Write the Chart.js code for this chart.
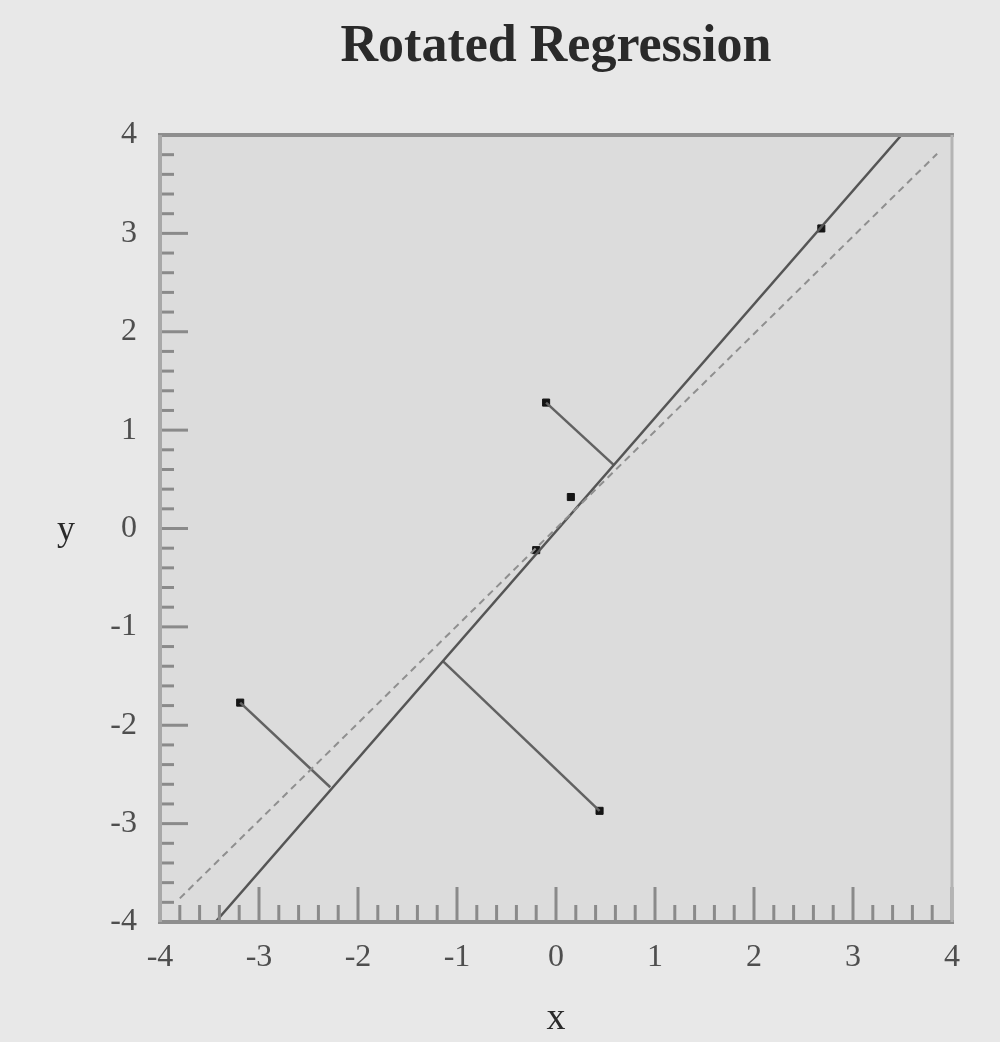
<!DOCTYPE html>
<html>
<head>
<meta charset="utf-8">
<script src="https://cdn.jsdelivr.net/npm/chart.js@4/dist/chart.umd.min.js"></script>
<style>
  body { margin: 0; background: #e8e8e8; }
  #wrap { width: 1000px; height: 1042px; }
</style>
</head>
<body>
<div id="wrap"><canvas id="myChart" width="1000" height="1042"></canvas></div>
<script>
// fitted (rotated) regression line, end points
const fitLineX = [-3.44, 3.49];
const fitLineY = [-4.0, 4.0];

// dashed reference line
const refLineX = [-3.80, 3.85];
const refLineY = [-3.76, 3.81];

// observations
const pointX = [2.68, 0.15, -0.20, -0.10, -3.19, 0.44];
const pointY = [3.05, 0.32, -0.22, 1.28, -1.77, -2.87];

// perpendicular residuals: from observation to foot on the fitted line
const residFromX = [-0.10, -3.19, 0.44];
const residFromY = [1.28, -1.77, -2.87];
const residToX = [0.58, -2.28, -1.14];
const residToY = [0.65, -2.63, -1.35];

const axisMin = -4;
const axisMax = 4;
const tickStep = 1;
const minorStep = 0.2;

const toPoints = (xs, ys) => xs.map((x, i) => ({ x: x, y: ys[i] }));

const serif = 'Liberation Serif';

// Segments for the residuals
const residDatasets = residFromX.map((x, i) => ({
    type: 'line',
    data: toPoints([x, residToX[i]], [residFromY[i], residToY[i]]),
    borderColor: '#626262',
    borderWidth: 2.5,
    pointRadius: 0,
    fill: false
}));

// Frame, inward ticks and the horizontal "y" label
const framePlugin = {
    id: 'frame',
    beforeDraw(chart) {
        const { ctx, chartArea: a } = chart;
        ctx.save();
        ctx.fillStyle = '#dcdcdc';
        ctx.fillRect(a.left, a.top, a.right - a.left, a.bottom - a.top);
        ctx.restore();
    },
    afterDraw(chart) {
        const { ctx, chartArea: a } = chart;
        const xs = chart.scales.x;
        const ys = chart.scales.y;
        ctx.save();

        // minor / major ticks pointing into the plot
        ctx.strokeStyle = '#8a8a8a';
        ctx.lineWidth = 3;
        const n = Math.round((axisMax - axisMin) / minorStep);
        for (let i = 0; i <= n; i++) {
            const v = axisMin + i * minorStep;
            const major = Math.abs(v - Math.round(v)) < 1e-6;
            const px = xs.getPixelForValue(v);
            ctx.beginPath();
            ctx.moveTo(px, a.bottom);
            ctx.lineTo(px, a.bottom - (major ? 35 : 17));
            ctx.stroke();
            const py = ys.getPixelForValue(v);
            ctx.beginPath();
            ctx.moveTo(a.left, py);
            ctx.lineTo(a.left + (major ? 28 : 14), py);
            ctx.stroke();
        }

        // frame
        ctx.strokeStyle = '#8e8e8e';
        ctx.lineWidth = 4;
        ctx.beginPath();
        ctx.moveTo(a.left - 2, a.top); ctx.lineTo(a.right + 2, a.top);
        ctx.moveTo(a.left - 2, a.bottom); ctx.lineTo(a.right + 2, a.bottom);
        ctx.stroke();
        ctx.strokeStyle = '#a8a8a8';
        ctx.beginPath();
        ctx.moveTo(a.left, a.top); ctx.lineTo(a.left, a.bottom);
        ctx.stroke();
        ctx.lineWidth = 3;
        ctx.strokeStyle = '#b4b4b4';
        ctx.beginPath();
        ctx.moveTo(a.right, a.top); ctx.lineTo(a.right, a.bottom);
        ctx.stroke();

        // y axis name, written upright like the original
        ctx.fillStyle = '#2a2a2a';
        ctx.font = '36px "' + serif + '"';
        ctx.textAlign = 'center';
        ctx.textBaseline = 'middle';
        ctx.fillText('y', 66, ys.getPixelForValue(0) + 2);
        ctx.restore();
    }
};

const ctx = document.getElementById('myChart').getContext('2d');
const myChart = new Chart(ctx, {
    type: 'scatter',
    data: {
        datasets: [
            {
                type: 'line',
                label: 'Reference',
                data: toPoints(refLineX, refLineY),
                borderColor: '#8f8f8f',
                borderWidth: 2,
                borderDash: [7, 5],
                pointRadius: 0,
                fill: false
            },
            {
                type: 'line',
                label: 'Rotated fit',
                data: toPoints(fitLineX, fitLineY),
                borderColor: '#555555',
                borderWidth: 2.5,
                pointRadius: 0,
                fill: false
            },
            ...residDatasets,
            {
                label: 'Data',
                data: toPoints(pointX, pointY),
                pointStyle: 'rect',
                pointRadius: 5,
                backgroundColor: '#151515',
                borderColor: '#151515',
                borderWidth: 1
            }
        ]
    },
    options: {
        responsive: false,
        animation: false,
        devicePixelRatio: 1,
        layout: {
            padding: { top: 0, left: 0, right: 48, bottom: 0 }
        },
        scales: {
            x: {
                type: 'linear',
                min: axisMin,
                max: axisMax,
                afterFit: s => { s.height = 120; },
                grid: { display: false, drawTicks: false },
                border: { display: false },
                ticks: {
                    stepSize: tickStep,
                    padding: 16,
                    color: '#4e4e4e',
                    font: { family: serif, size: 32 }
                },
                title: {
                    display: true,
                    text: 'x',
                    color: '#2a2a2a',
                    font: { family: serif, size: 38 },
                    padding: { top: 0, bottom: 0 }
                }
            },
            y: {
                type: 'linear',
                min: axisMin,
                max: axisMax,
                afterFit: s => { s.width = 160; },
                grid: { display: false, drawTicks: false },
                border: { display: false },
                ticks: {
                    stepSize: tickStep,
                    padding: 23,
                    color: '#4e4e4e',
                    font: { family: serif, size: 32 }
                }
            }
        },
        plugins: {
            legend: { display: false },
            tooltip: { enabled: false },
            title: {
                display: true,
                text: 'Rotated Regression',
                fullSize: false,
                color: '#2a2a2a',
                font: { family: serif, size: 52, weight: 'bold' },
                padding: { top: 16, bottom: 56.6 }
            }
        }
    },
    plugins: [framePlugin]
});
</script>
</body>
</html>
